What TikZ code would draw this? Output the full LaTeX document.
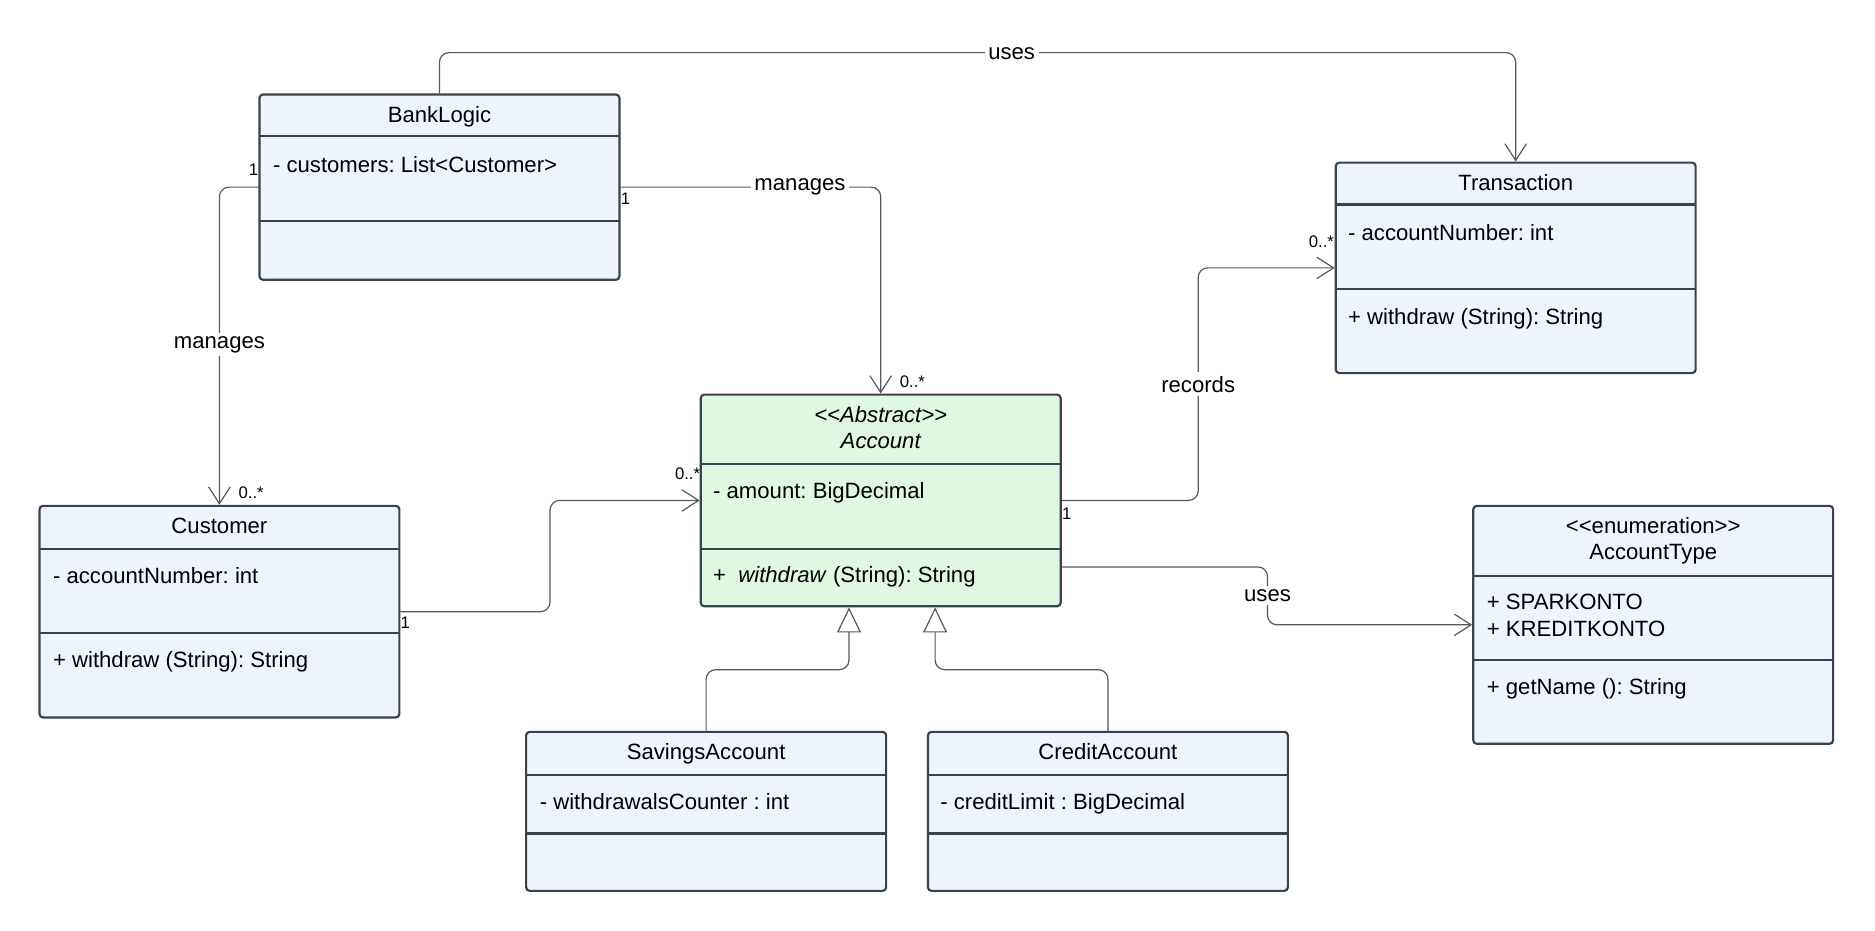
\documentclass[tikz,border=0pt]{standalone}
\usepackage{fontspec}
\setmainfont{Liberation Sans}
\usetikzlibrary{arrows.meta,fit,calc}
\definecolor{bfill}{HTML}{EDF4FE}
\definecolor{gfill}{HTML}{E0F8E1}
\definecolor{bline}{HTML}{3B424B}
\definecolor{cline}{HTML}{55595F}
\frenchspacing
\begin{document}
\begin{tikzpicture}[x=0.5pt,y=-0.5pt,
  font=\fontsize{9.25}{11}\selectfont,
  cls/.style={draw=bline, line width=0.9pt, rounded corners=1.5pt, inner sep=0pt},
  div/.style={draw=bline, line width=0.9pt},
  ttl/.style={inner sep=0pt, anchor=mid, yshift=-0.9pt},
  txt/.style={inner sep=0pt, anchor=mid west, yshift=-0.9pt},
  lab/.style={fill=white, inner sep=1.5pt, yshift=-0.6pt},
  mult/.style={font=\fontsize{7}{8}\selectfont, inner sep=0pt},
  assoc/.style={draw=cline, line width=0.5pt, rounded corners=4pt, -{Straight Barb[length=7pt,width=9pt]}},
  gen/.style={draw=cline, line width=0.5pt, rounded corners=4pt, -{Triangle[open,length=10.5pt,width=10pt,fill=white]}}]
\useasboundingbox[fill=white] (0,0) rectangle (1568,778);

% ---------- BankLogic
\node[cls, fill=bfill, fit={(217,79)(518,234)}] (bank) {};
\draw[div] (217,114) -- (518,114);
\draw[div] (217,185) -- (518,185);
\node[ttl] (bankt) at (367.5,95) {BankLogic};
\node[txt] (banka) at (228,137) {- customers: List<Customer>};

% ---------- Transaction
\node[cls, fill=bfill, fit={(1117,136)(1418,312)}] (trans) {};
\draw[div] (1117,171) -- (1418,171);
\draw[div] (1117,242) -- (1418,242);
\node[ttl] (transt) at (1267.5,152) {Transaction};
\node[txt] (transa) at (1127,194) {- accountNumber: int};
\node[txt] (transm) at (1127,264) {+ withdraw (String): String};

% ---------- Account
\node[cls, fill=gfill, fit={(586,330)(887,507)}] (acc) {};
\draw[div] (586,388) -- (887,388);
\draw[div] (586,459) -- (887,459);
\node[ttl] (acct1) at (736.5,346) {\itshape <{}<Abstract>{}>};
\node[ttl] (acct2) at (736.5,368) {\itshape Account};
\node[txt] (acca) at (596,410) {- amount: BigDecimal};
\node[txt] (accm) at (596,480) {+\ \ \textit{withdraw} (String): String};

% ---------- Customer
\node[cls, fill=bfill, fit={(33,423)(334,600)}] (cust) {};
\draw[div] (33,459) -- (334,459);
\draw[div] (33,529) -- (334,529);
\node[ttl] (custt) at (183.5,439) {Customer};
\node[txt] (custa) at (44,481) {- accountNumber: int};
\node[txt] (custm) at (44,551) {+ withdraw (String): String};

% ---------- AccountType
\node[cls, fill=bfill, fit={(1232,423)(1533,622)}] (atype) {};
\draw[div] (1232,482) -- (1533,482);
\draw[div] (1232,552) -- (1533,552);
\node[ttl] (atypet1) at (1382.5,439) {<{}<enumeration>{}>};
\node[ttl] (atypet2) at (1382.5,461) {AccountType};
\node[txt] (atypea1) at (1243,503) {+ SPARKONTO};
\node[txt] (atypea2) at (1243,525) {+ KREDITKONTO};
\node[txt] (atypem) at (1243,574) {+ getName (): String};

% ---------- SavingsAccount
\node[cls, fill=bfill, fit={(440,612)(741,745)}] (sav) {};
\draw[div] (440,648) -- (741,648);
\draw[div] (440,697) -- (741,697);
\node[ttl] (savt) at (590.5,628) {SavingsAccount};
\node[txt] (sava) at (451,670) {- withdrawalsCounter : int};

% ---------- CreditAccount
\node[cls, fill=bfill, fit={(776,612)(1077,745)}] (cred) {};
\draw[div] (776,648) -- (1077,648);
\draw[div] (776,697) -- (1077,697);
\node[ttl] (credt) at (926.5,628) {CreditAccount};
\node[txt] (creda) at (786,670) {- creditLimit : BigDecimal};

% ---------- helper coordinates
\coordinate (topy) at (0,44);
\coordinate (cx1) at (460,0);
\coordinate (cx2) at (1002,0);
\coordinate (cx3) at (1060,0);
\coordinate (gy) at (0,560);
\coordinate (au) at ($(acc.north east)+(0,145)$);
\coordinate (g1) at ($(acc.south)+(-26.5,0)$);
\coordinate (g2) at ($(acc.south)+(45.5,0)$);

% ---------- connectors
\draw[assoc] (bank.north) -- (bank.north |- topy) -- (trans.north |- topy) -- (trans.north);
\node[lab] (l1) at (846,44) {uses};

\draw[assoc] (bank.west) -| (cust.north);
\node[lab] (l2) at (183.5,287) {manages};
\node[mult] (m1) at (212,142) {1};
\node[mult] (m2) at (210,412) {0..*};

\draw[assoc] (bank.east) -| (acc.north);
\node[lab] (l3) at (669,155) {manages};
\node[mult] (m3) at (523,166) {1};
\node[mult] (m4) at (763,319) {0..*};

\draw[assoc] (cust.east) -- (cust.east -| cx1) -- (acc.west -| cx1) -- (acc.west);
\node[mult] (m5) at (339,521) {1};
\node[mult] (m6) at (575,396) {0..*};

\draw[assoc] (acc.east) -- (acc.east -| cx2) -- (trans.west -| cx2) -- (trans.west);
\node[lab] (l4) at (1002,320) {records};
\node[mult] (m7) at (892,430) {1};
\node[mult] (m8) at (1105,202) {0..*};

\draw[assoc] (au) -- (au -| cx3) -- (atype.west -| cx3) -- (atype.west);
\node[lab] (l5) at (1060,497) {uses};

\draw[gen] (sav.north) -- (sav.north |- gy) -- (g1 |- gy) -- (g1);
\draw[gen] (cred.north) -- (cred.north |- gy) -- (g2 |- gy) -- (g2);
\end{tikzpicture}
\end{document}
